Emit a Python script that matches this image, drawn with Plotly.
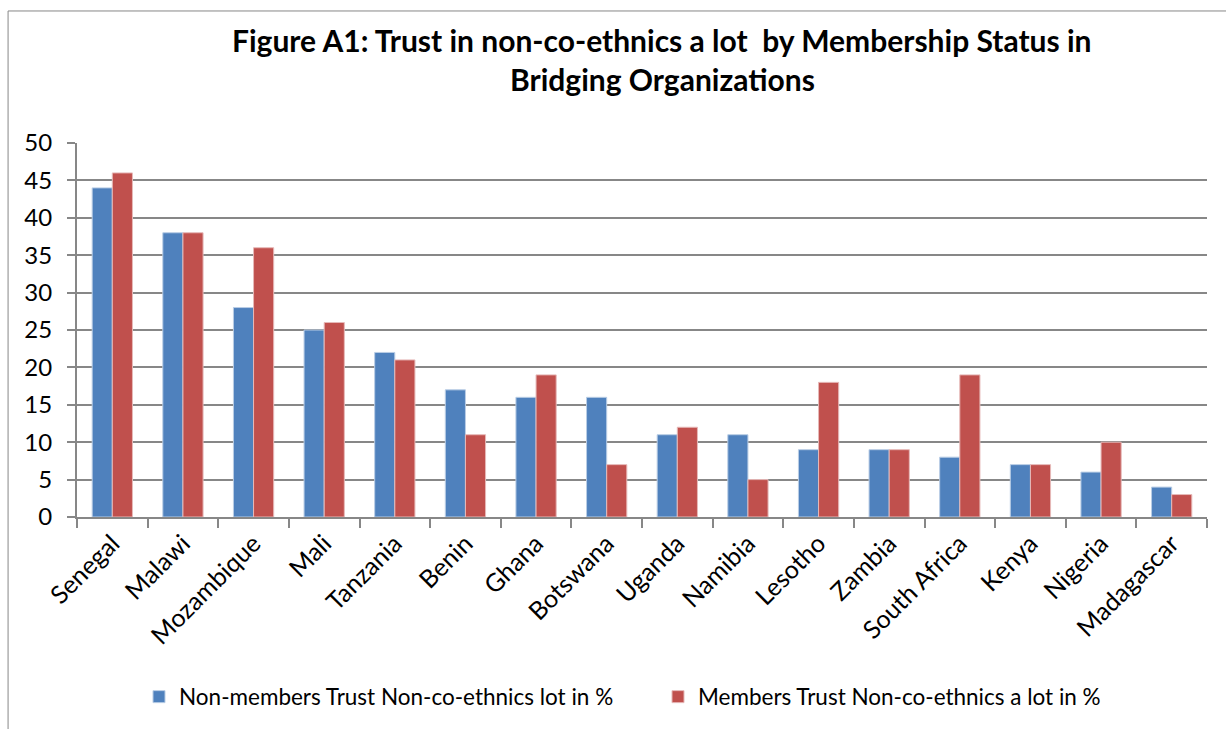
import plotly.graph_objects as go

countries = ["Senegal", "Malawi", "Mozambique", "Mali", "Tanzania", "Benin", "Ghana",
             "Botswana", "Uganda", "Namibia", "Lesotho", "Zambia", "South Africa",
             "Kenya", "Nigeria", "Madagascar"]
non_members = [44, 38, 28, 25, 22, 17, 16, 16, 11, 11, 9, 9, 8, 7, 6, 4]
members = [46, 38, 36, 26, 21, 11, 19, 7, 12, 5, 18, 9, 19, 7, 10, 3]
y_ticks = [0, 5, 10, 15, 20, 25, 30, 35, 40, 45, 50]
title_lines = ["Figure A1: Trust in non-co-ethnics a lot  by Membership Status in",
               "Bridging Organizations"]

FONT = "Lato"
GRID = "#878787"

fig = go.Figure()
fig.add_trace(go.Bar(
    x=countries, y=non_members, name="Non-members Trust Non-co-ethnics lot in %",
    marker=dict(color="#4F81BD", line=dict(color="#B9CDE5", width=1)),
))
fig.add_trace(go.Bar(
    x=countries, y=members, name="Members Trust Non-co-ethnics a lot in %",
    marker=dict(color="#C0504D", line=dict(color="#E6B9B8", width=1)),
))

# two-line bold heading above the plot area
annotations = [
    dict(text=f"<b>{line}</b>", xref="paper", yref="paper", x=0.518, y=yy,
         xanchor="center", yanchor="middle", showarrow=False,
         font=dict(family=FONT, size=30, color="black"))
    for line, yy in zip(title_lines, [1.275, 1.172])
]

fig.update_layout(
    width=1226, height=729,
    margin=dict(l=77, r=19, t=143, b=212, autoexpand=False),
    paper_bgcolor="white", plot_bgcolor="white",
    barmode="group", bargap=0.43, bargroupgap=0,
    font=dict(family=FONT, color="black"),
    annotations=annotations,
    showlegend=True,
    legend=dict(
        orientation="h", x=139 / 1226, xanchor="left", xref="container",
        y=1 - 697 / 729, yanchor="middle", yref="container",
        font=dict(family=FONT, size=22.5, color="black"),
        entrywidth=474, entrywidthmode="pixels",
        traceorder="normal",
    ),
    xaxis=dict(
        type="category", tickson="boundaries", ticks="outside", ticklen=9,
        tickcolor=GRID, tickwidth=2, showline=True, linecolor=GRID, linewidth=2,
        tickangle=-45, tickfont=dict(family=FONT, size=25, color="black"),
        showgrid=False, automargin=False,
    ),
    yaxis=dict(
        range=[0, 50], tickvals=y_ticks, ticks="outside", ticklen=8,
        tickcolor=GRID, tickwidth=2, showline=True, linecolor=GRID, linewidth=2,
        showgrid=True, gridcolor=GRID, gridwidth=2,
        tickfont=dict(family=FONT, size=24, color="black"),
        ticklabelstandoff=10, zeroline=False, automargin=False,
    ),
    shapes=[
        dict(type="line", xref="paper", yref="paper", x0=-0.061, x1=-0.061,
             y0=1.353, y1=-0.6, line=dict(color=GRID, width=1)),
        dict(type="line", xref="paper", yref="paper", x0=-0.061, x1=1.02,
             y0=1.353, y1=1.353, line=dict(color=GRID, width=1)),
    ],
)

fig.write_html("out.html")
